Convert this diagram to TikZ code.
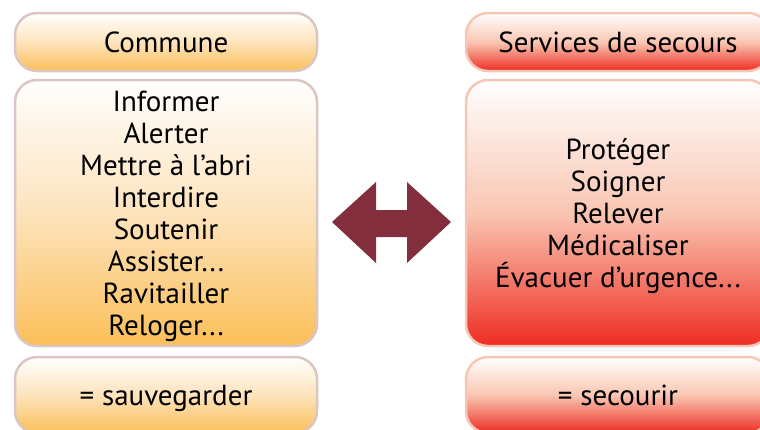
\documentclass[tikz,border=0pt]{standalone}
\usepackage{fontspec}
\setmainfont{PT Sans}
\definecolor{orgb}{HTML}{FBBF58}
\definecolor{orgm}{HTML}{FDE3BC}
\definecolor{orgl}{HTML}{DCC6C2}
\definecolor{redb}{HTML}{EE2C22}
\definecolor{redm}{HTML}{F9C6B2}
\definecolor{redl}{HTML}{F8C6B6}
\definecolor{arrowc}{HTML}{832E3D}
\tikzset{
  box/.style={draw, line width=2.5pt, rounded corners=22pt, inner sep=0pt, align=center,
    font=\fontsize{29}{32}\selectfont, minimum width=302pt, text depth=0pt},
  obox/.style={box, draw=orgl, top color=white, bottom color=orgb, middle color=orgm},
  rbox/.style={box, draw=redl, top color=white, bottom color=redb, middle color=redm},
}
\begin{document}
\begin{tikzpicture}[x=1pt,y=-1pt]
\useasboundingbox (0,0) rectangle (760,429);
\clip (0,0) rectangle (760,429);
\node[obox, minimum height=58pt] (c1) at (166,42) {Commune};
\node[obox, minimum height=266pt] (c2) at (166,213) {Informer\\Alerter\\Mettre à l’abri\\Interdire\\Soutenir\\Assister...\\Ravitailler\\Reloger...};
\node[obox, minimum height=76pt] (c3) at (166,395) {= sauvegarder};
\node[rbox, minimum height=58pt, minimum width=304pt] (s1) at (618,42) {Services de secours};
\node[rbox, minimum height=266pt, minimum width=304pt] (s2) at (618,213) {Protéger\\Soigner\\Relever\\Médicaliser\\Évacuer d’urgence...};
\node[rbox, minimum height=76pt, minimum width=304pt] (s3) at (618,395) {= secourir};
\fill[arrowc] (332,222) -- (376,182) -- (376,210) -- (407,210) -- (407,182) -- (451,222)
  -- (407,263) -- (407,237) -- (376,237) -- (376,263) -- cycle;
\end{tikzpicture}
\end{document}
